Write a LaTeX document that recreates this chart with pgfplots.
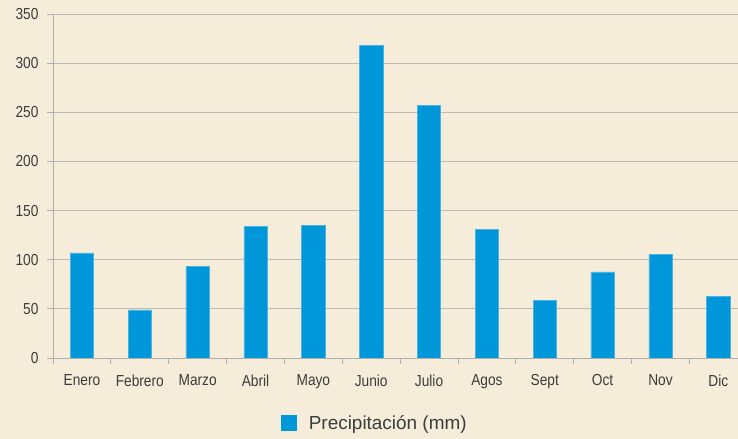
\documentclass[border=0pt]{standalone}
\usepackage{pgfplots}
\pgfplotsset{compat=1.18}
\usepackage{fontspec}
\setmainfont{Liberation Sans}[FakeStretch=0.86]
\newfontfamily\legfont{Liberation Sans}
\definecolor{bgc}{HTML}{F5EDD9}
\definecolor{barblue}{HTML}{0096DA}
\definecolor{baredge}{HTML}{4DB2E2}
\definecolor{gridgray}{HTML}{BDBAB2}
\definecolor{axisgray}{HTML}{AFAFAF}
\definecolor{txt}{HTML}{3C3C3C}
\begin{document}
\begin{tikzpicture}
\useasboundingbox (0,0) rectangle (738bp,439bp);
\fill[bgc] (0,0) rectangle (738bp,439bp);
\begin{axis}[
  at={(53bp,81bp)}, anchor=south west,
  scale only axis, width=685bp, height=344bp,
  xmin=-0.5, xmax=11.34, ymin=0, ymax=350,
  axis x line*=bottom, axis y line*=left,
  axis line style={draw=axisgray, line width=0.8bp},
  tick style={draw=axisgray, line width=0.8bp},
  tick align=outside, major tick length=6bp,
  ytick={0,50,...,350},
  xtick={-0.5,0.5,...,10.5},
  xticklabels={},
  extra x ticks={0,...,11},
  extra x tick labels={Enero,Febrero,Marzo,Abril,Mayo,Junio,Julio,Agos,Sept,Oct,Nov,Dic},
  extra x tick style={major tick length=0pt, grid=none,
    xticklabel style={yshift=-13bp}},
  ymajorgrids, grid style={draw=gridgray, line width=0.8bp},
  /pgf/number format/assume math mode=true,
  tick label style={font=\fontsize{16}{18}\selectfont, text=txt},
  yticklabel style={xshift=-5bp},
  ybar, bar width=23.3bp,
  legend style={at={(0.47,-0.189)}, anchor=center, draw=none, fill=none,
    font=\legfont\fontsize{19}{21}\selectfont, text=txt},
  legend image code/.code={\fill[barblue] (0bp,-7.5bp) rectangle (15bp,7.5bp);
    \path (25bp,0bp);},
]
\addplot[fill=barblue, draw=baredge, line width=0.6bp] coordinates {
  (0,107) (1,49) (2,93) (3,134) (4,135) (5,318)
  (6,257) (7,131) (8,59) (9,87.5) (10,105.5) (11,63)
};
\addlegendentry{Precipitación (mm)}
\end{axis}
\end{tikzpicture}
\end{document}
